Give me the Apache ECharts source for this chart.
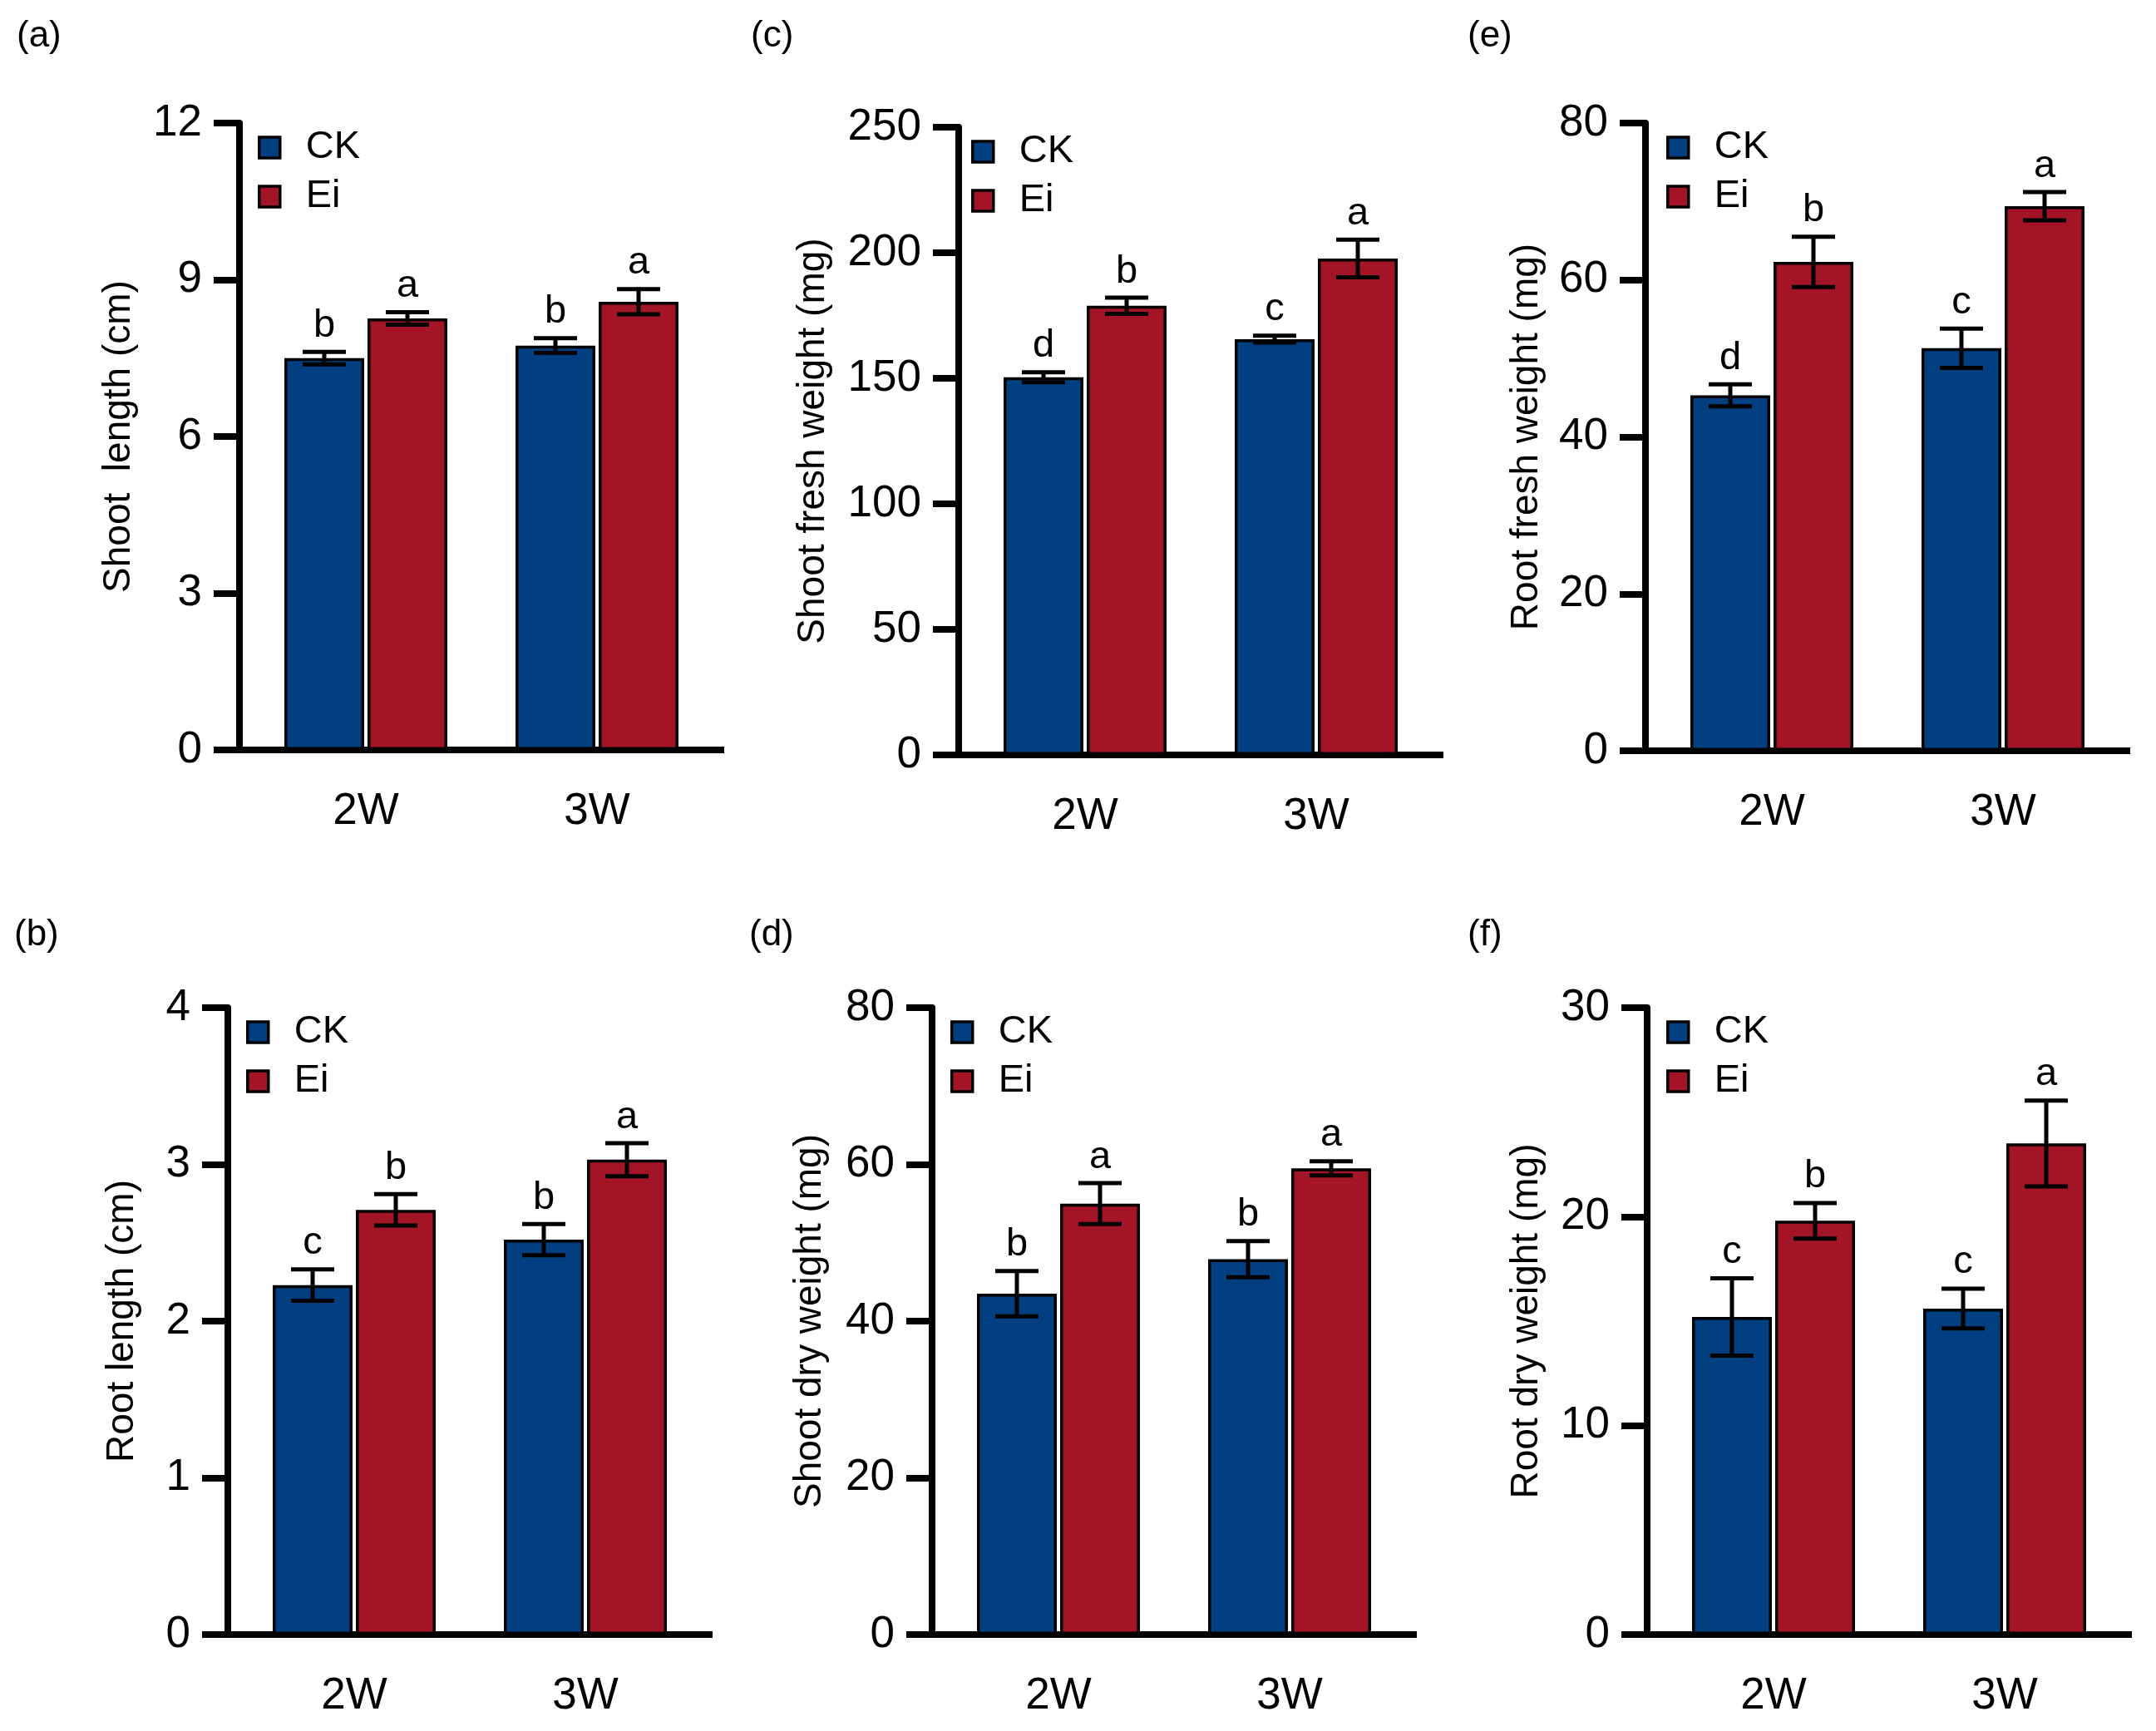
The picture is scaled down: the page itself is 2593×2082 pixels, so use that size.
<!DOCTYPE html>
<html>
<head>
<meta charset="utf-8">
<script src="https://cdn.jsdelivr.net/npm/echarts@6/dist/echarts.min.js"></script>
<style>
html,body{margin:0;padding:0;background:#fff}
#main{width:2593px;height:2082px}
</style>
</head>
<body>
<div id="main"></div>
<script>
// categories and groups
var categories = ['2W', '3W'];
var groups = ['CK', 'Ei'];

// (a) shoot length (cm)
var shootLenCK = [7.50, 7.74], shootLenCKErr = [0.12, 0.14], shootLenCKSig = ['b', 'b'];
var shootLenEi = [8.26, 8.58], shootLenEiErr = [0.12, 0.24], shootLenEiSig = ['a', 'a'];
// (b) root length (cm)
var rootLenCK = [2.23, 2.52], rootLenCKErr = [0.10, 0.10], rootLenCKSig = ['c', 'b'];
var rootLenEi = [2.71, 3.03], rootLenEiErr = [0.10, 0.105], rootLenEiSig = ['b', 'a'];
// (c) shoot fresh weight (mg)
var shootFwCK = [150.4, 165.6], shootFwCKErr = [2.0, 1.4], shootFwCKSig = ['d', 'c'];
var shootFwEi = [178.9, 197.7], shootFwEiErr = [3.2, 7.5], shootFwEiSig = ['b', 'a'];
// (d) shoot dry weight (mg)
var shootDwCK = [43.5, 47.9], shootDwCKErr = [2.9, 2.3], shootDwCKSig = ['b', 'b'];
var shootDwEi = [55.0, 59.5], shootDwEiErr = [2.6, 0.9], shootDwEiSig = ['a', 'a'];
// (e) root fresh weight (mg)
var rootFwCK = [45.3, 51.3], rootFwCKErr = [1.4, 2.5], rootFwCKSig = ['d', 'c'];
var rootFwEi = [62.3, 69.4], rootFwEiErr = [3.2, 1.8], rootFwEiSig = ['b', 'a'];
// (f) root dry weight (mg)
var rootDwCK = [15.2, 15.6], rootDwCKErr = [1.85, 0.95], rootDwCKSig = ['c', 'c'];
var rootDwEi = [19.8, 23.5], rootDwEiErr = [0.85, 2.05], rootDwEiSig = ['b', 'a'];

// y axis ranges
var yMax = [12, 4, 250, 80, 80, 30];
var yStep = [3, 1, 50, 20, 20, 10];
var yNames = ['Shoot  length (cm)', 'Root length (cm)', 'Shoot fresh weight (mg)',
              'Shoot dry weight (mg)', 'Root fresh weight (mg)', 'Root dry weight (mg)'];
var tags = ['(a)', '(b)', '(c)', '(d)', '(e)', '(f)'];

var panels = [
  [shootLenCK, shootLenCKErr, shootLenCKSig, shootLenEi, shootLenEiErr, shootLenEiSig],
  [rootLenCK, rootLenCKErr, rootLenCKSig, rootLenEi, rootLenEiErr, rootLenEiSig],
  [shootFwCK, shootFwCKErr, shootFwCKSig, shootFwEi, shootFwEiErr, shootFwEiSig],
  [shootDwCK, shootDwCKErr, shootDwCKSig, shootDwEi, shootDwEiErr, shootDwEiSig],
  [rootFwCK, rootFwCKErr, rootFwCKSig, rootFwEi, rootFwEiErr, rootFwEiSig],
  [rootDwCK, rootDwCKErr, rootDwCKSig, rootDwEi, rootDwEiErr, rootDwEiSig]
];

// layout (pixels)
var pos = [
  {tx: 20, ty: 22, left: 301, top: 148, h: 754, gap: 122, leg: 310},
  {tx: 17, ty: 1103, left: 287, top: 1212, h: 754, gap: 104, leg: 296},
  {tx: 903, ty: 22, left: 1166, top: 153, h: 755, gap: 152, leg: 1168},
  {tx: 901, ty: 1103, left: 1134, top: 1212, h: 754, gap: 124, leg: 1143},
  {tx: 1765, ty: 22, left: 1992, top: 148, h: 755, gap: 120, leg: 2004},
  {tx: 1765, ty: 1103, left: 1994, top: 1212, h: 754, gap: 122, leg: 2004}
];

var FONT = '"Liberation Sans", Arial, Helvetica, sans-serif';
var CK_COLOR = '#023f80', EI_COLOR = '#a31427';
var BAR_W = 96, BAR_GAP = 4, CAP = 26, ERR_W = 5, AX_W = 8;

function makeErr(sig) {
  return function (params, api) {
    var ci = api.value(0), m = api.value(1), e = api.value(2), g = api.value(3);
    var c = api.coord([ci, m]);
    var x = c[0] + (g === 0 ? -1 : 1) * (BAR_W + BAR_GAP) / 2;
    var hi = api.coord([ci, m + e])[1];
    var lo = api.coord([ci, m - e])[1];
    var st = {stroke: '#000', lineWidth: ERR_W};
    return {type: 'group', children: [
      {type: 'line', shape: {x1: x, y1: hi, x2: x, y2: lo}, style: st},
      {type: 'line', shape: {x1: x - CAP, y1: hi, x2: x + CAP, y2: hi}, style: st},
      {type: 'line', shape: {x1: x - CAP, y1: lo, x2: x + CAP, y2: lo}, style: st},
      {type: 'text', x: x, y: hi - 8, style: {text: sig[params.dataIndex], fontSize: 47,
        fontFamily: FONT, fill: '#000', align: 'center', verticalAlign: 'bottom'}}
    ]};
  };
}

var option = {animation: false, backgroundColor: '#fff',
  title: [], grid: [], xAxis: [], yAxis: [], legend: [], series: []};

panels.forEach(function (p, i) {
  var L = pos[i];
  option.title.push({text: tags[i], left: L.tx, top: L.ty, padding: 0,
    textStyle: {fontSize: 44, fontWeight: 'normal', color: '#000', fontFamily: FONT}});
  option.grid.push({left: L.left, top: L.top, width: 556, height: L.h,
    containLabel: false, outerBoundsMode: 'none'});
  option.xAxis.push({gridIndex: i, type: 'category', data: categories,
    axisLine: {lineStyle: {color: '#000', width: AX_W}, symbol: ['rect', 'rect'],
      symbolSize: [AX_W, 28], symbolOffset: [0, 0]},
    axisTick: {alignWithLabel: true, interval: 0, length: 33, lineStyle: {color: '#000', width: AX_W}},
    axisLabel: {interval: 0, fontSize: 53, margin: 48, color: '#000', fontFamily: FONT},
    splitLine: {show: false}});
  option.yAxis.push({gridIndex: i, type: 'value', min: 0, max: yMax[i], interval: yStep[i],
    offset: 13, name: yNames[i], nameLocation: 'middle', nameGap: L.gap, nameMoveOverlap: false,
    nameTextStyle: {fontSize: 46, color: '#000', fontFamily: FONT},
    axisLine: {show: true, lineStyle: {color: '#000', width: AX_W}},
    axisTick: {show: true, length: 31, lineStyle: {color: '#000', width: AX_W}},
    axisLabel: {fontSize: 53, margin: 45, color: '#000', fontFamily: FONT},
    splitLine: {show: false}});
  option.legend.push({data: groups, orient: 'vertical', left: L.leg, top: L.top + 6,
    padding: 0, itemWidth: 25, itemHeight: 25, itemGap: 12, icon: 'rect', selectedMode: false,
    itemStyle: {borderColor: '#000', borderWidth: 3.5},
    textStyle: {fontSize: 47, lineHeight: 46, color: '#000', fontFamily: FONT, padding: [0, 0, 0, 26]}});
  option.series.push({type: 'bar', name: groups[0], xAxisIndex: i, yAxisIndex: i, data: p[0],
    barWidth: BAR_W, barGap: (BAR_GAP / BAR_W * 100) + '%', z: 2,
    itemStyle: {color: CK_COLOR, borderColor: '#000', borderWidth: 3.5}});
  option.series.push({type: 'bar', name: groups[1], xAxisIndex: i, yAxisIndex: i, data: p[3],
    barWidth: BAR_W, barGap: (BAR_GAP / BAR_W * 100) + '%', z: 2,
    itemStyle: {color: EI_COLOR, borderColor: '#000', borderWidth: 3.5}});
  var errData = [], sig = [];
  [0, 1].forEach(function (g) {
    var vals = p[g * 3], errs = p[g * 3 + 1], lets = p[g * 3 + 2];
    vals.forEach(function (v, k) { errData.push([k, v, errs[k], g]); sig.push(lets[k]); });
  });
  option.series.push({type: 'custom', xAxisIndex: i, yAxisIndex: i, data: errData, z: 5,
    silent: true, encode: {x: 0, y: 1}, renderItem: makeErr(sig)});
});

var chart = echarts.init(document.getElementById('main'), null, {renderer: 'canvas'});
chart.setOption(option);
</script>
</body>
</html>
